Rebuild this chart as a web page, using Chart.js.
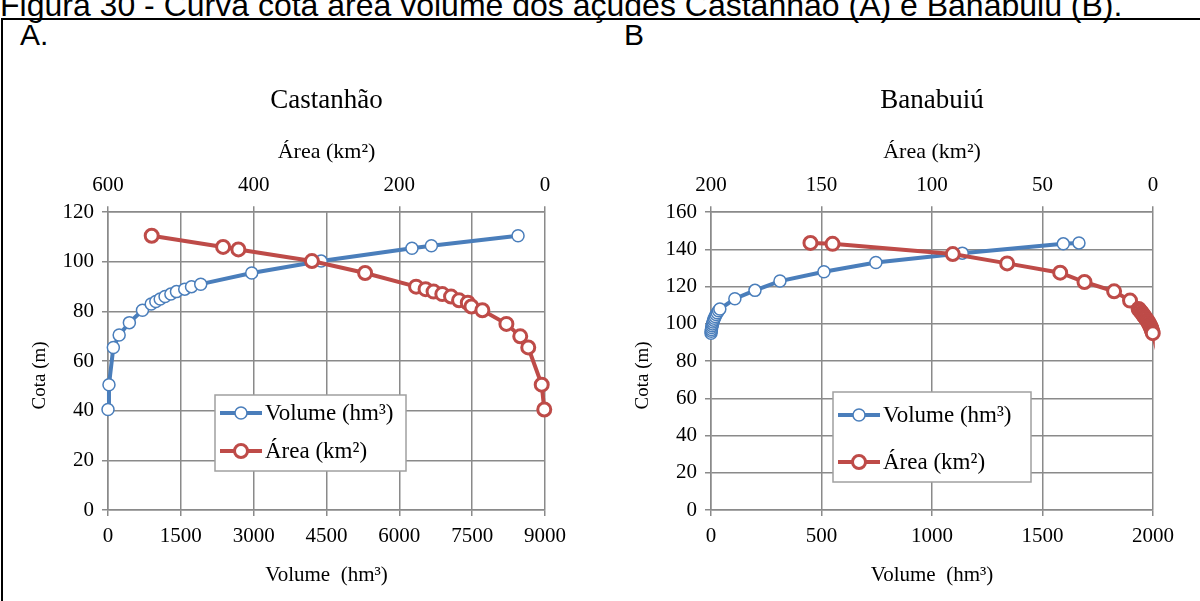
<!DOCTYPE html>
<html>
<head>
<meta charset="utf-8">
<script src="https://cdn.jsdelivr.net/npm/chart.js@4.4.1/dist/chart.umd.min.js"></script>
<style>
  html, body { margin: 0; padding: 0; background: #fff; }
  body { width: 1200px; height: 601px; position: relative; overflow: hidden; font-family: 'Liberation Sans', Arial, sans-serif; }
  #caption { position: absolute; left: 0; top: -11px; font-size: 32px; line-height: 32px; white-space: nowrap; color: #000; }
  #frame { position: absolute; left: 1px; top: 18px; width: 1199px; height: 583px; border-top: 2px solid #000; border-left: 2px solid #000; box-sizing: border-box; }
  .tag { position: absolute; top: 20px; font-size: 30px; line-height: 30px; color: #000; }
  .wrap { position: absolute; top: 0; width: 600px; height: 601px; }
</style>
</head>
<body>
<div id="caption">Figura 30 - Curva cota área volume dos açudes Castanhão (A) e Banabuiú (B).</div>
<div id="frame"></div>
<div class="tag" style="left:20px">A.</div>
<div class="tag" style="left:624px">B</div>
<div class="wrap" style="left:0"><canvas id="chartA" width="600" height="601"></canvas></div>
<div class="wrap" style="left:600px"><canvas id="chartB" width="600" height="601"></canvas></div>
<script>
// Castanhão: volume (hm³) x cota (m)
const castVolCota = [40.5, 50.5, 65.5, 70.5, 75.5, 80.5, 83, 84, 85, 86, 87, 88, 89, 90, 91, 95.5, 100.3, 105.5, 106.5, 110.5];
const castVolume = [0, 20, 110, 230, 440, 710, 890, 985, 1075, 1175, 1295, 1410, 1580, 1720, 1910, 2960, 4390, 6260, 6660, 8445];
// Castanhão: área (km²) x cota (m)
const castAreaCota = [110.5, 106, 105, 100.3, 95.5, 90, 89, 88, 87, 86, 84.5, 83.5, 82, 80.5, 75, 70, 65.5, 50.5, 40.5];
const castArea = [540, 442, 421, 320, 247, 177, 164, 153, 141, 129, 118, 106, 101, 86, 53, 34, 23, 4.5, 1];

// Banabuiú: volume (hm³) x cota (m)
const banVolCota = [95, 96, 97, 98, 99, 100, 101, 102, 103, 104, 105, 106, 107, 108, 113.5, 118, 123, 128, 133, 138, 143, 143.5];
const banVolume = [0, 1, 2, 3, 5, 7, 9, 12, 15, 19, 23, 28, 34, 40, 108, 199, 312, 511, 746, 1137, 1594, 1665];
// Banabuiú: área (km²) x cota (m)
const banAreaCota = [143.5, 143, 137.5, 132.5, 127.5, 122.5, 117.5, 112.5, 108, 107, 106, 105, 104, 103, 102, 101, 100, 99, 98, 97, 96, 95];
const banArea = [155, 145, 90.6, 66, 42, 31, 17.6, 10.4, 6.5, 5.8, 5.1, 4.5, 3.9, 3.3, 2.7, 2.2, 1.7, 1.3, 0.9, 0.6, 0.3, 0.1];

const GRID = '#8a8a8a';
const BLUE = '#4a7ebb';
const RED = '#be4b48';
const SERIF = "'Liberation Serif', 'Times New Roman', serif";

function pts(xs, ys) {
  return xs.map((x, i) => ({ x: x, y: ys[i] }));
}

// legend drawn as a white box inside the plot, like the Excel original
const boxLegend = {
  id: 'boxLegend',
  afterDatasetsDraw(chart, args, opts) {
    const ctx = chart.ctx;
    const b = opts.box;
    ctx.save();
    ctx.fillStyle = '#fff';
    ctx.fillRect(b.x, b.y, b.w, b.h);
    ctx.strokeStyle = '#a0a0a0';
    ctx.lineWidth = 1.5;
    ctx.strokeRect(b.x, b.y, b.w, b.h);
    chart.data.datasets.forEach((ds, i) => {
      const y = b.y + opts.rowTop + i * opts.rowGap;
      ctx.strokeStyle = ds.borderColor;
      ctx.lineWidth = ds.borderWidth;
      ctx.beginPath();
      ctx.moveTo(b.x + 5, y);
      ctx.lineTo(b.x + 47, y);
      ctx.stroke();
      ctx.beginPath();
      ctx.arc(b.x + 26, y, ds.pointRadius, 0, Math.PI * 2);
      ctx.fillStyle = '#fff';
      ctx.fill();
      ctx.lineWidth = ds.pointBorderWidth;
      ctx.stroke();
      ctx.fillStyle = '#000';
      ctx.font = '23px ' + SERIF;
      ctx.textBaseline = 'middle';
      ctx.fillText(ds.label, b.x + 50, y + 1);
    });
    ctx.restore();
  }
};

function axisText(size) {
  return { family: SERIF, size: size, weight: 'normal' };
}

function build(id, o) {
  return new Chart(document.getElementById(id), {
    type: 'scatter',
    data: {
      datasets: [
        {
          label: 'Volume (hm³)',
          data: pts(o.vol, o.volCota),
          xAxisID: 'x',
          showLine: true,
          borderColor: BLUE,
          borderWidth: 4,
          pointRadius: 6,
          pointBorderWidth: 1.5,
          pointBackgroundColor: '#fff',
          pointBorderColor: BLUE,
          clip: false,
          order: 1
        },
        {
          label: 'Área (km²)',
          data: pts(o.area, o.areaCota),
          xAxisID: 'x2',
          showLine: true,
          borderColor: RED,
          borderWidth: 4,
          pointRadius: 6.5,
          pointBorderWidth: 3,
          pointBackgroundColor: '#fff',
          pointBorderColor: RED,
          clip: false,
          order: 0
        }
      ]
    },
    options: {
      responsive: false,
      animation: false,
      layout: { padding: { left: 0, right: o.padRight, top: 0, bottom: 0 } },
      plugins: {
        legend: { display: false },
        tooltip: { enabled: false },
        title: {
          display: true,
          text: o.title,
          fullSize: false,
          color: '#000',
          font: axisText(27),
          padding: { top: 85, bottom: 0 }
        },
        boxLegend: o.legend
      },
      scales: {
        x: {
          type: 'linear',
          position: 'bottom',
          min: 0,
          max: o.volMax,
          ticks: { stepSize: o.volStep, color: '#000', font: axisText(21), padding: 8, callback: v => String(v) },
          grid: { color: GRID, lineWidth: 1.5, tickLength: 6 },
          border: { color: GRID, width: 1.5 },
          title: { display: true, text: 'Volume  (hm³)', color: '#000', font: axisText(21), padding: { top: 0, bottom: 13 } },
          afterFit: s => { s.height = 91; }
        },
        x2: {
          type: 'linear',
          position: 'top',
          reverse: true,
          min: 0,
          max: o.areaMax,
          ticks: { stepSize: o.areaStep, color: '#000', font: axisText(21), padding: 8, callback: v => String(v) },
          grid: { color: GRID, lineWidth: 1.5, tickLength: 6, drawOnChartArea: false },
          border: { color: GRID, width: 1.5 },
          title: { display: true, text: 'Área (km²)', color: '#000', font: axisText(22), padding: { top: 22, bottom: 0 } },
          afterFit: s => { s.height = 94.8; }
        },
        y: {
          type: 'linear',
          min: 0,
          max: o.cotaMax,
          ticks: { stepSize: 20, color: '#000', font: axisText(21), padding: 8 },
          grid: { color: GRID, lineWidth: 1.5, tickLength: 6 },
          border: { color: GRID, width: 1.5 },
          // trailing spaces push the rotated label a little lower, as in the original
          title: { display: true, text: 'Cota (m)      ', color: '#000', font: axisText(19), padding: { top: o.yTitlePad, bottom: 0 } },
          afterFit: s => { s.width = o.yWidth; }
        }
      }
    },
    plugins: [boxLegend]
  });
}

build('chartA', {
  title: 'Castanhão',
  vol: castVolume, volCota: castVolCota,
  area: castArea, areaCota: castAreaCota,
  volMax: 9000, volStep: 1500,
  areaMax: 600, areaStep: 200,
  cotaMax: 120,
  yWidth: 108, yTitlePad: 29, padRight: 55,
  legend: { box: { x: 215, y: 395, w: 191, h: 76 }, rowTop: 18, rowGap: 38 }
});

build('chartB', {
  title: 'Banabuiú',
  vol: banVolume, volCota: banVolCota,
  area: banArea, areaCota: banAreaCota,
  volMax: 2000, volStep: 500,
  areaMax: 200, areaStep: 50,
  cotaMax: 160,
  yWidth: 111, yTitlePad: 32, padRight: 47,
  legend: { box: { x: 233, y: 392, w: 198, h: 90 }, rowTop: 23, rowGap: 47 }
});
</script>
</body>
</html>
